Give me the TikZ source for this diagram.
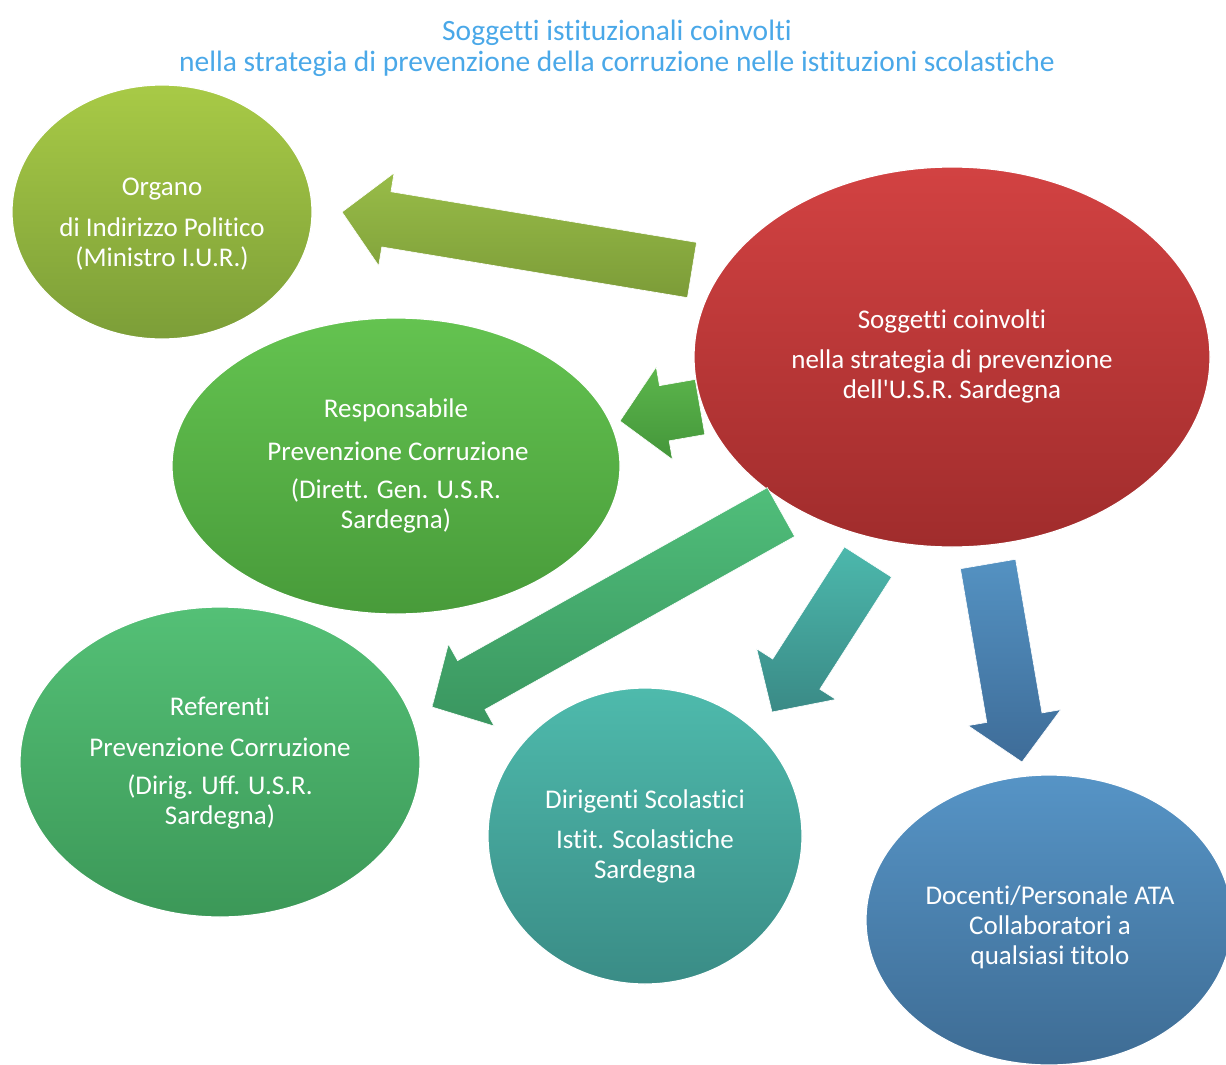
\documentclass[tikz,border=0pt]{standalone}
\usepackage{fontspec}
\setmainfont{Carlito}[Ligatures={TeXOff,NoCommon}]
\usetikzlibrary{shapes.geometric,calc}
\definecolor{titleblue}{HTML}{4AA8E8}
\tikzset{
  blob/.style={ellipse, inner sep=0pt, draw=white!60, line width=1.2pt},
  lbl/.style={text=white, align=center, font=\fontsize{27}{30}\selectfont},
}
\newcommand\blockarr[4]{% top color, bottom color, tail, tip
  \path[top color=#1, bottom color=#2, draw=white!40, line width=0.6pt]
    ($(#3)!28pt!90:(#4)$) --
    ($($(#4)!45pt!(#3)$)!28pt!-90:(#3)$) --
    ($($(#4)!45pt!(#3)$)!47pt!-90:(#3)$) --
    (#4) --
    ($($(#4)!45pt!(#3)$)!47pt!90:(#3)$) --
    ($($(#4)!45pt!(#3)$)!28pt!90:(#3)$) --
    ($(#3)!28pt!-90:(#4)$) -- cycle;
}
\begin{document}
\begin{tikzpicture}[x=1pt,y=-1pt]
\useasboundingbox (0,0) rectangle (1226,1065);
% title
\node[text=titleblue, align=center, font=\fontsize{29.5}{31}\selectfont] (title) at (617,48)
  {Soggetti istituzionali coinvolti\\nella strategia di prevenzione della corruzione nelle istituzioni scolastiche};
% ellipses
\node[blob, minimum width=300pt, minimum height=254pt, top color={rgb,255:red,168;green,202;blue,70}, bottom color={rgb,255:red,124;green,158;blue,56}] (org) at (162,212) {};
\node[blob, minimum width=448pt, minimum height=296pt, top color={rgb,255:red,100;green,195;blue,80}, bottom color={rgb,255:red,72;green,155;blue,58}] (resp) at (396,466) {};
\node[blob, minimum width=516pt, minimum height=380pt, top color={rgb,255:red,210;green,66;blue,66}, bottom color={rgb,255:red,160;green,44;blue,44}] (sog) at (952,357) {};
\node[blob, minimum width=400pt, minimum height=310pt, top color={rgb,255:red,84;green,192;blue,118}, bottom color={rgb,255:red,60;green,152;blue,88}] (ref) at (220,762) {};
\node[blob, minimum width=314pt, minimum height=296pt, top color={rgb,255:red,78;green,186;blue,172}, bottom color={rgb,255:red,58;green,140;blue,134}] (dir) at (645,836) {};
\node[blob, minimum width=366pt, minimum height=290pt, top color={rgb,255:red,86;green,148;blue,198}, bottom color={rgb,255:red,62;green,108;blue,148}] (doc) at (1049,920) {};
% arrow end points
\coordinate (a1t) at (692,270); \coordinate (a1h) at (342,212);
\coordinate (a2t) at (700,407); \coordinate (a2h) at (620,421);
\coordinate (a3t) at (781,512); \coordinate (a3h) at (432,707);
\coordinate (a4t) at (868,562); \coordinate (a4h) at (772,712);
\coordinate (a5t) at (988,564); \coordinate (a5h) at (1022,762);
\blockarr{{rgb,255:red,152;green,188;blue,72}}{{rgb,255:red,124;green,156;blue,56}}{a1t}{a1h}
\blockarr{{rgb,255:red,92;green,182;blue,76}}{{rgb,255:red,68;green,150;blue,58}}{a2t}{a2h}
\blockarr{{rgb,255:red,80;green,190;blue,122}}{{rgb,255:red,58;green,150;blue,96}}{a3t}{a3h}
\blockarr{{rgb,255:red,76;green,184;blue,172}}{{rgb,255:red,58;green,138;blue,134}}{a4t}{a4h}
\blockarr{{rgb,255:red,84;green,146;blue,194}}{{rgb,255:red,62;green,108;blue,152}}{a5t}{a5h}
% labels
\node[lbl] (orgl) at (162,189) {Organo};
\node[lbl] (orgl2) at (162,244) {di Indirizzo Politico\\(Ministro I.U.R.)};
\node[lbl] (respl) at (396,410) {Responsabile};
\node[lbl] (respl2) at (398,451) {Prevenzione Corruzione};
\node[lbl] (respl3) at (396,506) {(Dirett. Gen. U.S.R.\\Sardegna)};
\node[lbl] (sogl) at (952,321) {Soggetti coinvolti};
\node[lbl] (sogl2) at (952,376) {nella strategia di prevenzione\\dell'U.S.R. Sardegna};
\node[lbl] (refl) at (220,706) {Referenti};
\node[lbl] (refl2) at (220,747) {Prevenzione Corruzione};
\node[lbl] (refl3) at (220,802) {(Dirig. Uff. U.S.R.\\Sardegna)};
\node[lbl] (dirl) at (645,801) {Dirigenti Scolastici};
\node[lbl] (dirl2) at (645,856) {Istit. Scolastiche\\Sardegna};
\node[lbl] (docl) at (1050,927) {Docenti/Personale ATA\\Collaboratori a\\qualsiasi titolo};
\end{tikzpicture}
\end{document}
